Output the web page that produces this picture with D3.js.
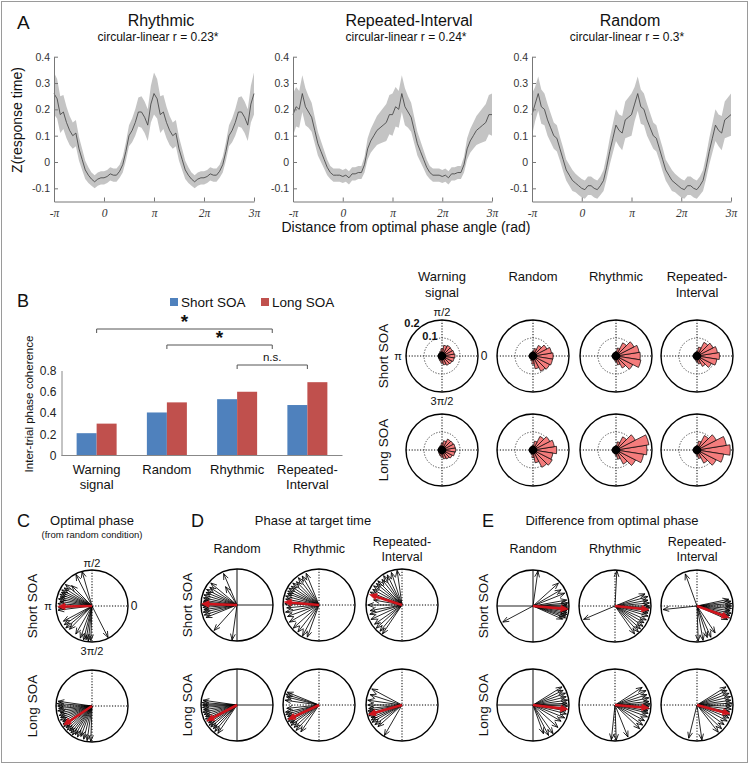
<!DOCTYPE html>
<html><head><meta charset="utf-8">
<script src="https://cdn.jsdelivr.net/npm/d3@7"></script>
<style>
body{margin:0;background:#fff}
svg{display:block}
text{font-family:"Liberation Sans",Arial,sans-serif;fill:#111}
</style>
</head><body>
<svg id="c" width="750" height="765"></svg>
<script>
// ---------------- DATA ----------------
// Panel A: one cycle (-π..π, step π/16); the cycle is plotted twice (-π..3π)
const conditionsA = ["Rhythmic", "Repeated-Interval", "Random"];
const corrLabels = ["circular-linear r = 0.23*", "circular-linear r = 0.24*", "circular-linear r = 0.3*"];
const rtRhythmic = [0.26,0.24,0.18,0.19,0.15,0.12,0.10,0.11,0.05,0.01,-0.03,-0.05,-0.065,-0.075,-0.065,-0.06,-0.06,-0.055,-0.045,-0.05,-0.05,-0.035,-0.01,0.04,0.10,0.12,0.15,0.19,0.19,0.17,0.14,0.22,0.26];
const seRhythmic = [0.08,0.075,0.07,0.065,0.06,0.055,0.05,0.05,0.045,0.04,0.035,0.03,0.025,0.025,0.025,0.025,0.025,0.025,0.025,0.025,0.025,0.025,0.03,0.035,0.04,0.045,0.05,0.055,0.06,0.06,0.06,0.07,0.08];
const rtRepeated = [0.18,0.21,0.20,0.26,0.21,0.19,0.17,0.12,0.07,0.04,0.01,-0.02,-0.04,-0.05,-0.05,-0.05,-0.055,-0.05,-0.06,-0.045,-0.045,-0.04,-0.04,-0.01,0.05,0.08,0.10,0.12,0.13,0.14,0.15,0.18,0.18];
const seRepeated = [0.08,0.075,0.07,0.07,0.07,0.06,0.055,0.05,0.045,0.04,0.035,0.03,0.025,0.025,0.025,0.025,0.025,0.025,0.025,0.025,0.025,0.025,0.025,0.03,0.04,0.045,0.05,0.055,0.06,0.065,0.07,0.075,0.08];
const rtRandom = [0.18,0.22,0.26,0.21,0.20,0.16,0.13,0.10,0.09,0.05,0.01,-0.03,-0.05,-0.07,-0.08,-0.09,-0.10,-0.105,-0.09,-0.09,-0.10,-0.105,-0.09,-0.07,-0.02,0.04,0.09,0.14,0.12,0.11,0.16,0.17,0.18];
const seRandom = [0.08,0.065,0.065,0.065,0.06,0.06,0.055,0.05,0.05,0.045,0.045,0.04,0.04,0.04,0.035,0.035,0.035,0.035,0.035,0.035,0.035,0.035,0.035,0.04,0.045,0.05,0.055,0.06,0.06,0.065,0.07,0.075,0.08];
const phaseTicks = [-Math.PI, 0, Math.PI, 2*Math.PI, 3*Math.PI];
const phaseTickLabels = ["-π","0","π","2π","3π"];
const zTicks = [-0.1,0,0.1,0.2,0.3,0.4];
const zTickLabels = ["-0.1","0","0.1","0.2","0.3","0.4"];

// Panel B bars
const barCategories = [["Warning","signal"],["Random"],["Rhythmic"],["Repeated-","Interval"]];
const itpcShort = [0.21, 0.405, 0.53, 0.475];
const itpcLong  = [0.30, 0.50, 0.60, 0.69];
const itpcTicks = [0, 0.2, 0.4, 0.6, 0.8];
const itpcTickLabels = ["0","0.2","0.4","0.6","0.8"];
const bracketFrom = [0, 1, 2];
const bracketTo = [2.5, 2.5, 3];
const bracketLabels = ["*", "*", "n.s."];

// Rose histograms (bin centres in degrees, 0 = right, counter-clockwise)
const roseColumns = [["Warning","signal"],["Random"],["Rhythmic"],["Repeated-","Interval"]];
const roseBins = [0,18,36,54,72,90,108,126,144,162,180,198,216,234,252,270,288,306,324,342];
const roseWarnShort = [0.072,0.068,0.064,0.066,0.06,0.04,0.028,0.022,0.02,0.02,0.02,0.02,0.022,0.025,0.03,0.04,0.05,0.058,0.062,0.068];
const roseRandShort = [0.112,0.104,0.086,0.066,0.042,0.028,0.02,0.018,0.018,0.018,0.018,0.018,0.018,0.02,0.028,0.045,0.072,0.095,0.104,0.11];
const roseRhyShort  = [0.135,0.13,0.112,0.082,0.045,0.025,0.02,0.018,0.018,0.018,0.018,0.018,0.018,0.02,0.025,0.032,0.05,0.075,0.105,0.14];
const roseRepShort  = [0.125,0.115,0.1,0.085,0.05,0.028,0.02,0.018,0.018,0.018,0.018,0.018,0.018,0.02,0.025,0.032,0.045,0.065,0.09,0.112];
const roseWarnLong  = [0.076,0.074,0.07,0.068,0.052,0.036,0.026,0.022,0.02,0.02,0.02,0.02,0.022,0.026,0.032,0.04,0.05,0.056,0.064,0.072];
const roseRandLong  = [0.132,0.12,0.105,0.085,0.05,0.028,0.02,0.018,0.018,0.018,0.018,0.018,0.018,0.02,0.026,0.042,0.072,0.108,0.12,0.112];
const roseRhyLong   = [0.172,0.185,0.12,0.082,0.046,0.024,0.018,0.016,0.016,0.016,0.016,0.016,0.016,0.018,0.022,0.03,0.052,0.088,0.122,0.155];
const roseRepLong   = [0.185,0.165,0.12,0.09,0.05,0.026,0.018,0.016,0.016,0.016,0.016,0.016,0.016,0.018,0.022,0.03,0.048,0.082,0.12,0.15];

// Compass plots: [angle in degrees, length (fraction of radius)]
const optShort = [[106,1],[117,0.98],[135,0.8],[141,0.95],[147,0.92],[152,0.95],[156,0.93],[160,0.95],[164,0.92],[168,0.95],[172,0.9],[176,0.95],[183,0.93],[187,0.95],[208,0.9],[214,0.93],[220,0.95],[226,0.9],[240,0.9],[250,0.95],[256,0.97],[260,0.95],[264,0.98],[268,0.96],[297,0.98]];
const optShortMean = [181, 0.95];
const optLong = [[172,0.95],[176,0.97],[180,0.95],[184,0.93],[188,0.96],[192,0.9],[196,0.95],[200,0.93],[204,0.96],[208,0.92],[212,0.95],[216,0.97],[220,0.94],[224,0.96],[228,0.93],[232,0.95],[236,0.97],[240,0.92],[245,0.95],[250,0.9],[256,0.95],[262,0.97],[268,0.98]];
const optLongMean = [214, 0.95];

const tgtRandShort = [[113,0.95],[122,0.6],[140,0.95],[147,0.9],[153,0.95],[158,0.93],[163,0.96],[168,0.95],[172,0.93],[175,0.95],[180,0.97],[184,0.95],[188,0.93],[192,0.96],[197,0.95],[202,0.93],[228,0.95],[262,0.98]];
const tgtRandShortMean = [178, 0.98];
const tgtRhyShort = [[112,0.95],[120,0.93],[127,0.95],[134,0.9],[140,0.95],[146,0.93],[151,0.96],[156,0.95],[160,0.93],[165,0.96],[170,0.94],[178,0.95],[185,0.9],[192,0.95],[200,0.93],[210,0.95],[222,0.96],[232,0.95],[242,0.97],[250,0.95]];
const tgtRhyShortMean = [175, 0.97];
const tgtRepShort = [[98,0.97],[108,0.95],[116,0.93],[122,0.96],[128,0.9],[135,0.95],[140,0.93],[146,0.95],[152,0.92],[158,0.95],[170,0.8],[180,0.95],[190,0.9],[196,0.93],[205,0.95],[215,0.93],[222,0.96],[230,0.95],[236,0.97]];
const tgtRepShortMean = [162, 0.95];
const tgtRandLong = [[172,0.95],[176,0.97],[180,0.95],[184,0.96],[188,0.94],[192,0.97],[196,0.95],[200,0.93],[204,0.96],[208,0.95],[212,0.93],[216,0.96],[220,0.95],[225,0.93],[230,0.96],[236,0.95]];
const tgtRandLongMean = [208, 0.95];
const tgtRhyLong = [[158,0.95],[162,0.97],[166,0.93],[172,0.95],[186,0.9],[192,0.95],[196,0.96],[200,0.93],[204,0.95],[208,0.97],[212,0.94],[216,0.96],[222,0.93],[228,0.95],[236,0.9]];
const tgtRhyLongMean = [205, 0.95];
const tgtRepLong = [[152,0.95],[162,0.93],[172,0.96],[180,0.95],[186,0.93],[190,0.96],[194,0.95],[198,0.97],[202,0.93],[206,0.95],[210,0.96],[216,0.93],[222,0.9],[240,0.98]];
const tgtRepLongMean = [196, 0.97];

const difRandShort = [[82,0.98],[42,0.95],[30,0.9],[22,0.95],[10,0.95],[5,0.97],[2,0.95],[-2,0.96],[-5,0.98],[-8,0.95],[-11,0.96],[-14,0.97],[-17,0.95],[-20,0.96],[-24,0.9],[208,0.95]];
const difRandShortMean = [-5, 0.98];
const difRhyShort = [[87,0.98],[22,0.9],[16,0.95],[10,0.93],[5,0.96],[0,0.95],[-3,0.97],[-8,0.95],[-12,0.94],[-17,0.96],[-24,0.95],[-30,0.93],[-36,0.96],[-42,0.95],[-48,0.97],[-55,0.95],[203,0.95]];
const difRhyShortMean = [-6, 0.95];
const difRepShort = [[110,0.95],[186,0.95],[12,0.9],[8,0.95],[4,0.97],[0,0.95],[-4,0.96],[-8,0.93],[-12,0.97],[-16,0.95],[-20,0.96],[-24,0.93],[-56,0.9],[-66,0.95],[-72,0.92],[-80,0.97],[-88,0.97]];
const difRepShortMean = [-20, 0.95];
const difRandLong = [[32,0.95],[26,0.93],[20,0.96],[14,0.95],[8,0.97],[3,0.95],[-2,0.96],[-6,0.95],[-10,0.93],[-15,0.96],[-22,0.95],[-30,0.9],[-42,0.93],[-55,0.97],[-63,0.95],[-70,0.85]];
const difRandLongMean = [-7, 0.98];
const difRhyLong = [[33,0.9],[25,0.95],[18,0.93],[12,0.96],[6,0.95],[2,0.97],[-2,0.95],[-6,0.96],[-10,0.93],[-14,0.95],[-20,0.96],[-28,0.93],[-36,0.95],[-44,0.95],[-68,0.96],[-88,0.98],[-96,0.97]];
const difRhyLongMean = [-5, 0.95];
const difRepLong = [[32,0.95],[26,0.93],[20,0.95],[14,0.96],[8,0.95],[3,0.97],[-2,0.95],[-7,0.96],[-12,0.93],[-17,0.95],[-22,0.96],[-28,0.95],[-36,0.93],[-44,0.95],[-52,0.96],[-82,0.98],[-104,0.95]];
const difRepLongMean = [-15, 0.95];
const compassColumns = [["Random"],["Rhythmic"],["Repeated-","Interval"]];

// ---------------- DRAW ----------------
const svg = d3.select("#c");
svg.append("rect").attr("x",1.5).attr("y",1.5).attr("width",746).attr("height",761)
  .attr("fill","none").attr("stroke","#9a9a9a").attr("stroke-width",1);

function txt(x, y, s, o = {}) {
  const t = svg.append("text").attr("x", x).attr("y", y).text(s)
    .attr("text-anchor", o.anchor || "middle")
    .style("font-size", (o.size || 13) + "px");
  if (o.weight) t.style("font-weight", o.weight);
  if (o.family) t.style("font-family", o.family);
  if (o.fill) t.style("fill", o.fill);
  if (o.rotate) t.attr("transform", `rotate(-90,${x},${y})`);
  if (o.mid) t.attr("dominant-baseline", "central");
  return t;
}
function multiline(x, y, lines, dy, o) { lines.forEach((l, i) => txt(x, y + i * dy, l, o)); }

// ---- Panel A ----
txt(17, 29, "A", {anchor: "start", size: 19});
const aRanges = [[54,254],[293,492],[532,731]];
const aCenters = [161, 409, 630];
const rtMeans = [rtRhythmic, rtRepeated, rtRandom];
const rtSEs = [seRhythmic, seRepeated, seRandom];
const yA = d3.scaleLinear().domain([-0.15, 0.4]).range([201.5, 56.7]);
conditionsA.forEach((name, i) => {
  txt(aCenters[i], 26, name, {size: 16});
  txt(aCenters[i] - 3, 41, corrLabels[i], {size: 12});
  const x = d3.scaleLinear().domain([-Math.PI, 3 * Math.PI]).range(aRanges[i]);
  const m = rtMeans[i].concat(rtMeans[i].slice(1));
  const h = rtSEs[i].concat(rtSEs[i].slice(1));
  const pts = m.map((v, k) => ({ph: -Math.PI + k * Math.PI / 16, m: v, h: h[k]}));
  const g = svg.append("g");
  g.append("path").datum(pts)
    .attr("d", d3.area().x(d => x(d.ph)).y0(d => yA(d.m - d.h)).y1(d => yA(d.m + d.h)))
    .attr("fill", "#c4c4c4");
  g.append("path").datum(pts)
    .attr("d", d3.line().x(d => x(d.ph)).y(d => yA(d.m)))
    .attr("fill", "none").attr("stroke", "#3c3c3c").attr("stroke-width", 0.8);
  const xa = svg.append("g").attr("transform", `translate(0,${yA(-0.15)})`)
    .call(d3.axisBottom(x).tickValues(phaseTicks).tickFormat((d, j) => phaseTickLabels[j])
      .tickSizeInner(-4).tickSizeOuter(0).tickPadding(7));
  const ya = svg.append("g").attr("transform", `translate(${aRanges[i][0]},0)`)
    .call(d3.axisLeft(yA).tickValues(zTicks).tickFormat((d, j) => zTickLabels[j])
      .tickSizeInner(-4).tickSizeOuter(0).tickPadding(4));
  [xa, ya].forEach(a => {
    a.select(".domain").attr("stroke", "#777");
    a.selectAll(".tick line").attr("stroke", "#777");
    a.selectAll(".tick text").style("fill", "#333").style("font-size", "10.5px")
      .style("font-family", "'Liberation Sans',Arial,sans-serif");
  });
  xa.selectAll(".tick text").style("font-family", "'Liberation Serif','Times New Roman',serif")
    .style("font-style", "italic").style("font-size", "11.5px");
});
txt(17, 120, "Z(response time)", {size: 14, rotate: true, mid: true});
txt(406, 232, "Distance from optimal phase angle (rad)", {size: 14});

// ---- Panel B ----
txt(17, 307, "B", {anchor: "start", size: 18});
const colShort = "#4f81bd", colLong = "#c0504d";
svg.append("rect").attr("x", 170).attr("y", 298).attr("width", 8).attr("height", 8).attr("fill", colShort);
txt(181, 306.5, "Short SOA", {anchor: "start", size: 13.5});
svg.append("rect").attr("x", 261).attr("y", 298).attr("width", 8).attr("height", 8).attr("fill", colLong);
txt(272, 306.5, "Long SOA", {anchor: "start", size: 13.5});

const xB = d3.scaleBand().domain(d3.range(barCategories.length)).range([61.5, 342.5]);
const subB = d3.scaleBand().domain(["short", "long"]).range([0, 40]);
const yB = d3.scaleLinear().domain([0, 0.8]).range([455.5, 370.5]);
const barOff = (xB.bandwidth() - 40) / 2;
const gB = svg.append("g");
barCategories.forEach((c, i) => {
  gB.append("rect").attr("x", xB(i) + barOff + subB("short")).attr("width", subB.bandwidth())
    .attr("y", yB(itpcShort[i])).attr("height", yB(0) - yB(itpcShort[i])).attr("fill", colShort);
  gB.append("rect").attr("x", xB(i) + barOff + subB("long")).attr("width", subB.bandwidth())
    .attr("y", yB(itpcLong[i])).attr("height", yB(0) - yB(itpcLong[i])).attr("fill", colLong);
  multiline(xB(i) + xB.bandwidth() / 2, 474, c, 15, {size: 13});
});
const yAxB = svg.append("g").attr("transform", "translate(61.5,0)")
  .call(d3.axisLeft(yB).tickValues(itpcTicks).tickFormat((d, j) => itpcTickLabels[j]).tickSizeInner(0).tickSizeOuter(0).tickPadding(5));
yAxB.select(".domain").attr("stroke", "#888");
yAxB.selectAll(".tick text").attr("fill", "#222").style("fill", "#222").style("font-size", "12px")
  .style("font-family", "'Liberation Sans',Arial,sans-serif");
svg.append("line").attr("x1", 61.5).attr("x2", 342.5).attr("y1", 455.5).attr("y2", 455.5).attr("stroke", "#888");
txt(29, 404, "Inter-trial phase coherence", {size: 11.5, rotate: true, mid: true});
const bCenter = i => xB(Math.floor(i)) + xB.bandwidth() / 2 + (i % 1) * xB.step();
const bracketY = [329, 345, 365];
bracketLabels.forEach((lab, i) => {
  const x1 = bCenter(bracketFrom[i]), x2 = bCenter(bracketTo[i]), y = bracketY[i];
  svg.append("path").attr("d", `M${x1},${y + 4}V${y}H${x2}V${y + 4}`)
    .attr("fill", "none").attr("stroke", "#555").attr("stroke-width", 1);
  if (lab === "*") txt((x1 + x2) / 2, y - 1, lab, {size: 19, weight: "bold"});
  else txt((x1 + x2) / 2, y - 4, lab, {size: 11.5});
});

// ---- Rose plots ----
const roseShort = [roseWarnShort, roseRandShort, roseRhyShort, roseRepShort];
const roseLong = [roseWarnLong, roseRandLong, roseRhyLong, roseRepLong];
const roseX = [442, 533, 616, 697], roseY = [356, 450];
const R = 36;
const rScale = d3.scaleLinear().domain([0, 0.2]).range([0, R]);
function rose(cx, cy, vals) {
  const g = svg.append("g").attr("transform", `translate(${cx},${cy})`);
  g.append("line").attr("x1", -R).attr("x2", R).attr("stroke", "#000").attr("stroke-dasharray", "1.2,1.6").attr("stroke-width", 1);
  g.append("line").attr("y1", -R).attr("y2", R).attr("stroke", "#000").attr("stroke-dasharray", "1.2,1.6").attr("stroke-width", 1);
  g.append("circle").attr("r", rScale(0.1)).attr("fill", "none").attr("stroke", "#444").attr("stroke-dasharray", "1.2,1.6");
  const arc = d3.arc().innerRadius(0);
  const w = 18 * Math.PI / 180;
  vals.forEach((v, k) => {
    const th = roseBins[k] * Math.PI / 180;
    g.append("path").attr("d", arc({outerRadius: rScale(v), startAngle: Math.PI / 2 - th - w / 2, endAngle: Math.PI / 2 - th + w / 2}))
      .attr("fill", "#f47c7c").attr("stroke", "#000").attr("stroke-width", 0.7);
  });
  g.append("circle").attr("r", 4.3).attr("fill", "#000");
  g.append("circle").attr("r", R).attr("fill", "none").attr("stroke", "#000").attr("stroke-width", 1.4);
}
roseColumns.forEach((c, i) => {
  multiline(roseX[i], 281, c, 16, {size: 13});
  rose(roseX[i], roseY[0], roseShort[i]);
  rose(roseX[i], roseY[1], roseLong[i]);
});
txt(383, 356, "Short SOA", {size: 13.5, rotate: true, mid: true});
txt(383, 450, "Long SOA", {size: 13.5, rotate: true, mid: true});
txt(442, 312, "π/2", {size: 11, mid: true});
txt(398, 356, "π", {size: 11, mid: true});
txt(484, 356, "0", {size: 12, mid: true});
txt(442, 401, "3π/2", {size: 11, mid: true});
txt(412, 323, "0.2", {size: 11, weight: "bold", mid: true});
txt(430, 336, "0.1", {size: 11, weight: "bold", mid: true});

// ---- Compass plots ----
const RC = 36;
const lenScale = d3.scaleLinear().domain([0, 1]).range([0, RC]);
function arrow(g, deg, len, color, w, filled) {
  const t = deg * Math.PI / 180;
  const x = len * Math.cos(t), y = -len * Math.sin(t);
  const hl = filled ? 8 : 6.5, ha = filled ? 0.42 : 0.38;
  const b = t + Math.PI;
  const p1 = [x + hl * Math.cos(b + ha), y - hl * Math.sin(b + ha)];
  const p2 = [x + hl * Math.cos(b - ha), y - hl * Math.sin(b - ha)];
  if (filled) {
    const sx = x + (hl * 0.7) * Math.cos(b), sy = y - (hl * 0.7) * Math.sin(b);
    g.append("line").attr("x1", 0).attr("y1", 0).attr("x2", sx).attr("y2", sy)
      .attr("stroke", color).attr("stroke-width", w);
    g.append("path").attr("d", `M${x},${y}L${p1[0]},${p1[1]}L${p2[0]},${p2[1]}Z`).attr("fill", color)
      .attr("stroke", color).attr("stroke-width", 0.6);
  } else {
    g.append("path").attr("d", `M0,0L${x},${y}M${p1[0]},${p1[1]}L${x},${y}L${p2[0]},${p2[1]}`)
      .attr("fill", "none").attr("stroke", color).attr("stroke-width", w);
  }
}
function compass(cx, cy, arrows, mean, solid) {
  const g = svg.append("g").attr("transform", `translate(${cx},${cy})`);
  ["x", "y"].forEach(ax => {
    const l = g.append("line").attr("stroke", solid ? "#222" : "#000").attr("stroke-width", solid ? 1.1 : 1);
    if (ax === "x") l.attr("x1", -RC).attr("x2", RC); else l.attr("y1", -RC).attr("y2", RC);
    if (!solid) l.attr("stroke-dasharray", "1.2,1.6");
  });
  g.append("circle").attr("r", RC).attr("fill", "none").attr("stroke", "#000").attr("stroke-width", 1.4);
  arrows.forEach(([a, l]) => arrow(g, a, lenScale(l), "#000", 0.85, false));
  arrow(g, mean[0], lenScale(mean[1]), "#d0141c", 2.6, true);
}
// C
txt(17, 527, "C", {anchor: "start", size: 18});
txt(92, 525, "Optimal phase", {size: 13});
txt(92, 538, "(from random condition)", {size: 9.5});
compass(92, 606, optShort, optShortMean, false);
compass(92, 706, optLong, optLongMean, false);
txt(92, 563, "π/2", {size: 11, mid: true});
txt(48, 606, "π", {size: 11, mid: true});
txt(134, 606, "0", {size: 12, mid: true});
txt(92, 651, "3π/2", {size: 11, mid: true});
txt(32, 606, "Short SOA", {size: 13.5, rotate: true, mid: true});
txt(32, 706, "Long SOA", {size: 13.5, rotate: true, mid: true});
// D
txt(191, 527, "D", {anchor: "start", size: 18});
txt(313, 525, "Phase at target time", {size: 13});
const dX = [237, 319, 402];
const dShort = [[tgtRandShort, tgtRandShortMean], [tgtRhyShort, tgtRhyShortMean], [tgtRepShort, tgtRepShortMean]];
const dLong = [[tgtRandLong, tgtRandLongMean], [tgtRhyLong, tgtRhyLongMean], [tgtRepLong, tgtRepLongMean]];
compassColumns.forEach((c, i) => {
  if (c.length === 1) txt(dX[i], 553, c[0], {size: 12.5});
  else multiline(dX[i], 546, c, 14.5, {size: 12.5});
  compass(dX[i], 605, dShort[i][0], dShort[i][1], i === 0);
  compass(dX[i], 705, dLong[i][0], dLong[i][1], i === 0);
});
txt(187, 605, "Short SOA", {size: 13.5, rotate: true, mid: true});
txt(187, 705, "Long SOA", {size: 13.5, rotate: true, mid: true});
// E
txt(482, 527, "E", {anchor: "start", size: 18});
txt(612, 525, "Difference from optimal phase", {size: 13});
const eX = [533, 615, 697];
const eShort = [[difRandShort, difRandShortMean], [difRhyShort, difRhyShortMean], [difRepShort, difRepShortMean]];
const eLong = [[difRandLong, difRandLongMean], [difRhyLong, difRhyLongMean], [difRepLong, difRepLongMean]];
compassColumns.forEach((c, i) => {
  if (c.length === 1) txt(eX[i], 553, c[0], {size: 12.5});
  else multiline(eX[i], 546, c, 14.5, {size: 12.5});
  compass(eX[i], 606, eShort[i][0], eShort[i][1], i === 0);
  compass(eX[i], 705, eLong[i][0], eLong[i][1], i === 0);
});
txt(483, 606, "Short SOA", {size: 13.5, rotate: true, mid: true});
txt(483, 705, "Long SOA", {size: 13.5, rotate: true, mid: true});
</script>
</body></html>
